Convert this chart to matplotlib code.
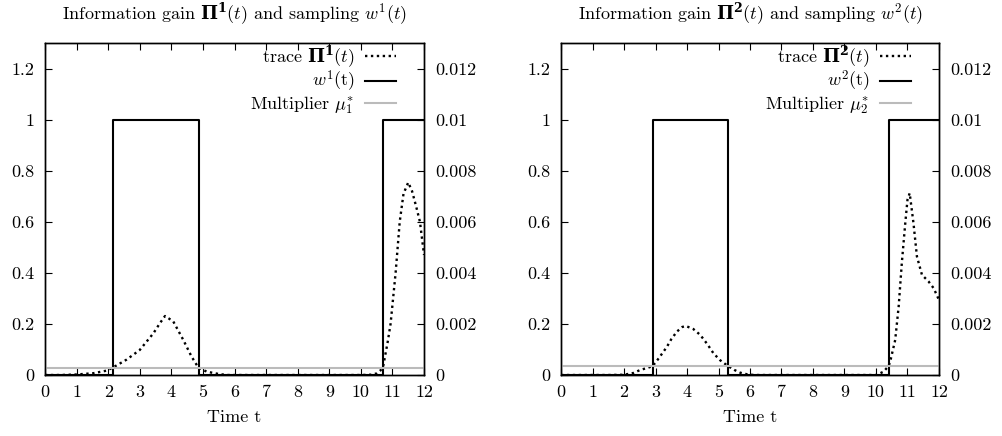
import matplotlib
matplotlib.use("Agg")
import matplotlib.pyplot as plt

plt.rcParams['font.family'] = 'serif'
plt.rcParams['font.serif'] = ['cmr10', 'DejaVu Serif']
plt.rcParams['mathtext.fontset'] = 'custom'
plt.rcParams['mathtext.rm'] = 'cmr10'
plt.rcParams['mathtext.it'] = 'cmmi10'
plt.rcParams['mathtext.bf'] = 'DejaVu Serif:bold'
plt.rcParams['mathtext.fallback'] = 'cm'
plt.rcParams['axes.formatter.use_mathtext'] = True
plt.rcParams['font.size'] = 13

# --- panel 1 data ---
t1 = [0, 0.5, 1.0, 1.53, 1.95, 2.16, 2.58, 3.0, 3.43, 3.65, 3.8, 4.06, 4.38,
      4.64, 4.85, 5.12, 5.54, 5.8, 10.0, 10.3, 10.5, 10.62, 10.7, 10.76,
      10.85, 10.94, 11.02, 11.1, 11.23, 11.35, 11.5, 11.62, 11.75, 11.87, 12.0]
trace1 = [0, 0, 0.002, 0.007, 0.017, 0.03, 0.06, 0.098, 0.163, 0.205, 0.231,
          0.21, 0.137, 0.072, 0.03, 0.013, 0.003, 0, 0, 0.001, 0.006, 0.018,
          0.03, 0.07, 0.13, 0.2, 0.3, 0.4, 0.6, 0.71, 0.754, 0.72, 0.66, 0.6, 0.47]
w1_t = [0, 2.16, 4.86, 10.7, 12]
w1_v = [0, 1, 0, 1, 1]
mu1 = 0.00029

# --- panel 2 data ---
t2 = [0, 1.5, 2.0, 2.3, 2.52, 2.75, 2.91, 3.1, 3.36, 3.5, 3.68, 3.85, 3.96,
      4.2, 4.42, 4.65, 4.84, 5.05, 5.29, 5.5, 5.69, 5.9, 6.12, 10.0, 10.1,
      10.24, 10.4, 10.45, 10.61, 10.72, 10.82, 10.93, 11.0, 11.07, 11.19,
      11.3, 11.46, 11.67, 11.83, 12.0]
trace2 = [0, 0, 0.001, 0.008, 0.02, 0.028, 0.035, 0.065, 0.11, 0.14, 0.17,
          0.188, 0.192, 0.18, 0.157, 0.12, 0.085, 0.058, 0.036, 0.02, 0.009,
          0.003, 0, 0, 0.005, 0.013, 0.035, 0.052, 0.137, 0.268, 0.438, 0.595,
          0.686, 0.712, 0.595, 0.464, 0.392, 0.366, 0.34, 0.294]
w2_t = [0, 2.91, 5.29, 10.4, 12]
w2_v = [0, 1, 0, 1, 1]
mu2 = 0.00035

xticks = list(range(0, 13))
yticks = [0, 0.2, 0.4, 0.6, 0.8, 1, 1.2]
ylabels = ['0', '0.2', '0.4', '0.6', '0.8', '1', '1.2']
y2ticks = [0, 0.002, 0.004, 0.006, 0.008, 0.01, 0.012]
y2labels = ['0', '0.002', '0.004', '0.006', '0.008', '0.01', '0.012']

panels = [
    (1, t1, trace1, w1_t, w1_v, mu1, [0.0449, 0.1399, 0.3783, 0.7615]),
    (2, t2, trace2, w2_t, w2_v, mu2, [0.5599, 0.1399, 0.3772, 0.7615]),
]

fig = plt.figure(figsize=(10.02, 4.36), dpi=100)

for k, t, tr, wt, wv, mu, rect in panels:
    ax = fig.add_axes(rect)
    ax2 = ax.twinx()
    l1, = ax.plot(t, tr, color='black', linestyle=(0, (1, 1.5)), lw=1.7,
                  label=r'trace $\mathbf{\Pi^%d}(t)$' % k, zorder=3)
    l2, = ax.step(wt, wv, where='post', color='black', lw=1.5,
                  label=r'$w^%d$(t)' % k, zorder=2)
    l3, = ax2.plot([0, 12], [mu, mu], color='#bbbbbb', lw=1.5,
                   label=r'Multiplier $\mu_%d^{\ast}$' % k)
    ax.set_xlim(0, 12)
    ax.set_ylim(0, 1.3)
    ax2.set_ylim(0, 0.013)
    ax.set_xticks(xticks)
    ax.set_xticklabels([str(x) for x in xticks])
    ax.set_yticks(yticks)
    ax.set_yticklabels(ylabels)
    ax2.set_yticks(y2ticks)
    ax2.set_yticklabels(y2labels)
    ax.tick_params(axis='x', direction='in', top=True, length=5, width=0.8, pad=7)
    ax.tick_params(axis='y', direction='in', length=5, width=0.8, pad=8)
    ax2.tick_params(axis='y', direction='in', length=5, width=0.8, pad=8)
    for a in (ax, ax2):
        for s in a.spines.values():
            s.set_linewidth(1.0)
    ax.set_xlabel('Time t', labelpad=7)
    ax.set_title(r'Information gain $\mathbf{\Pi^%d}(t)$ and sampling $w^%d(t)$' % (k, k),
                 pad=17, fontsize=13)
    ax2.legend(handles=[l1, l2, l3], loc='upper right', frameon=False,
               markerfirst=False, alignment='right', handlelength=1.7,
               labelspacing=-0.02, handletextpad=0.6, borderaxespad=0.0,
               bbox_to_anchor=(0.945, 1.02))

fig.savefig('out.png', dpi=100)
